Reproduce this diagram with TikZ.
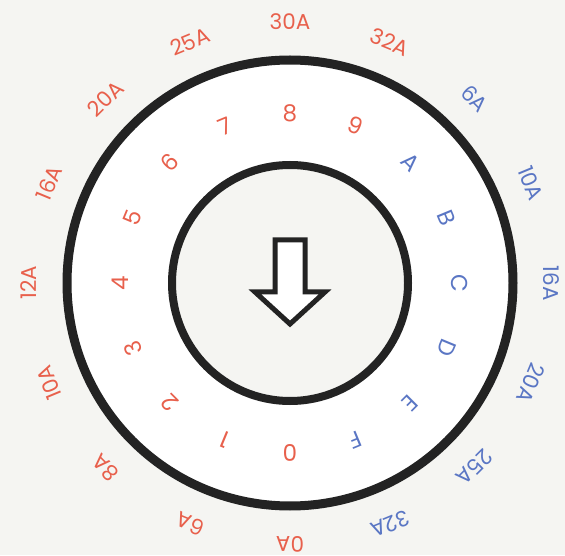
\documentclass[tikz,border=0pt]{standalone}
\usepackage{fontspec}
\setmainfont{Poppins}
\usepackage{xcolor}
\usetikzlibrary{positioning}
\definecolor{dialred}{HTML}{E8604C}
\definecolor{dialblue}{HTML}{5A76C4}
\definecolor{ringgray}{HTML}{232323}
\definecolor{paper}{HTML}{F5F5F2}

\begin{document}
\begin{tikzpicture}[x=1pt, y=1pt,
  digit/.style={font=\fontsize{23}{23}\selectfont, inner sep=0pt},
  amp/.style={font=\fontsize{21.5}{21.5}\selectfont, inner sep=0pt},
  rim/.style={circle, draw=ringgray, line width=9pt, fill=white,
              minimum size=446, inner sep=0pt},
  hub/.style={circle, draw=ringgray, line width=8pt, fill=paper,
              minimum size=236, inner sep=0pt}]

\useasboundingbox (0,0) rectangle (565,555);
\fill[paper] (0,0) rectangle (565,555);

\coordinate (c) at (290,272);
\node[rim] (outer) at (c) {};
\node[hub] (inner) at (c) {};

% hollow arrow in the hub
\draw[ringgray, line width=5pt, line join=miter, fill=white]
  ([shift={(-15,43)}]c) -- ([shift={(15,43)}]c) -- ([shift={(15,-9)}]c)
  -- ([shift={(35,-9)}]c) -- ([shift={(0,-41)}]c) -- ([shift={(-35,-9)}]c)
  -- ([shift={(-15,-9)}]c) -- cycle;

% switch positions
\foreach \t/\col [count=\k from 0] in {0/dialred,1/dialred,2/dialred,3/dialred,
    4/dialred,5/dialred,6/dialred,7/dialred,8/dialred,9/dialred,
    A/dialblue,B/dialblue,C/dialblue,D/dialblue,E/dialblue,F/dialblue}
  \node[digit, text=\col, rotate={-180-\k*22.5}] (d\t)
    at ([shift={(-90-\k*22.5:170)}]c) {\t};

% current ratings
\foreach \t/\col [count=\k from 0] in {0A/dialred,6A/dialred,8A/dialred,
    10A/dialred,12A/dialred,16A/dialred,20A/dialred,25A/dialred,30A/dialred,
    32A/dialred,6A/dialblue,10A/dialblue,16A/dialblue,20A/dialblue,
    25A/dialblue,32A/dialblue}
  \node[amp, text=\col, rotate={-180-\k*22.5}] (o\k)
    at ([shift={(-90-\k*22.5:261)}]c) {\t};
\end{tikzpicture}
\end{document}
